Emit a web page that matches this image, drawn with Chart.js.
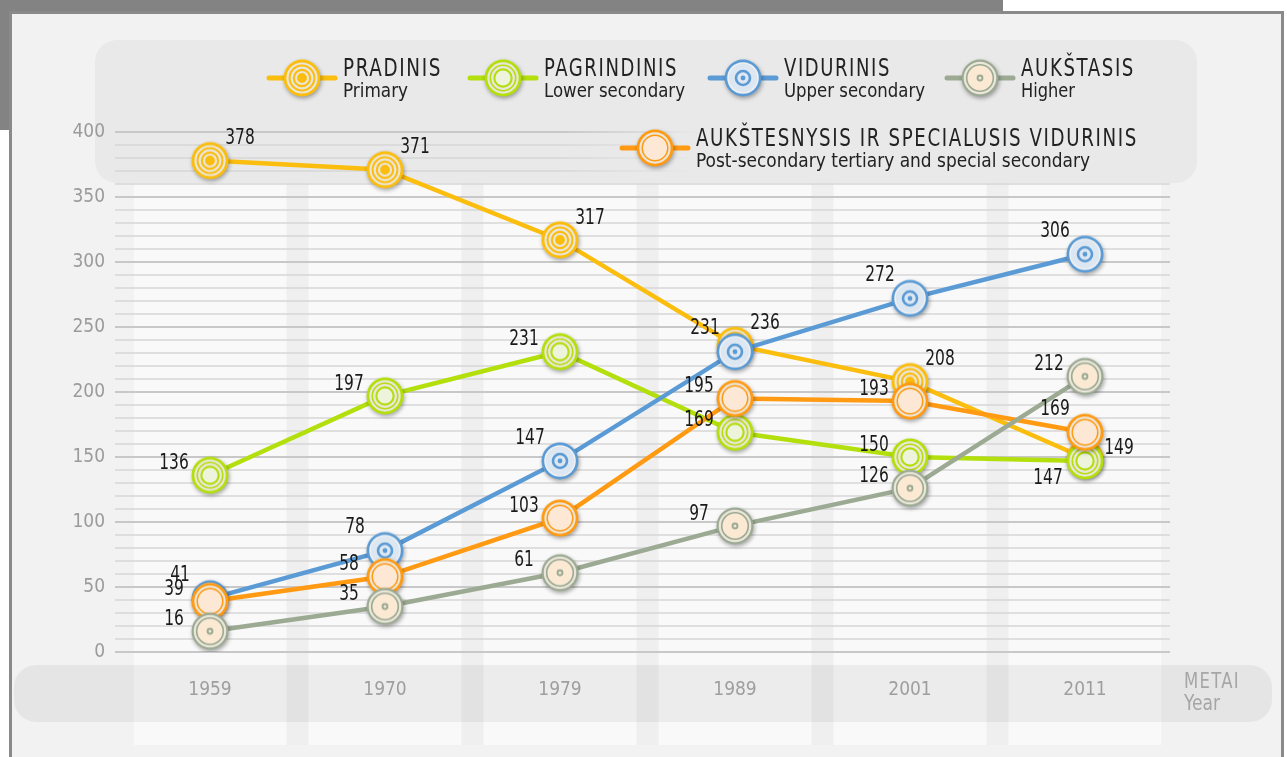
<!DOCTYPE html>
<html>
<head>
<meta charset="utf-8">
<script src="https://cdn.jsdelivr.net/npm/chart.js@4.4.1/dist/chart.umd.min.js"></script>
<style>
html, body { margin: 0; padding: 0; background: #fff; overflow: hidden; }
canvas { display: block; }
</style>
</head>
<body>
<canvas id="chart" width="1287" height="757"></canvas>
<script>
// Chart data (thousands of people by education level)
const years = ['1959', '1970', '1979', '1989', '2001', '2011'];
const primary = [378, 371, 317, 236, 208, 149];
const lowerSecondary = [136, 197, 231, 169, 150, 147];
const upperSecondary = [41, 78, 147, 231, 272, 306];
const higher = [16, 35, 61, 97, 126, 212];
const postSecondary = [39, 58, 103, 195, 193, 169];

const seriesTitles = ['PRADINIS', 'PAGRINDINIS', 'VIDURINIS', 'AUKŠTASIS', 'AUKŠTESNYSIS IR SPECIALUSIS VIDURINIS'];
const seriesSubtitles = ['Primary', 'Lower secondary', 'Upper secondary', 'Higher', 'Post-secondary tertiary and special secondary'];
const axisTitle = ['METAI', 'Year'];

// where each value label sits around its marker
const primaryPlace = ['ur', 'ur', 'ur', 'ur', 'ur', 'r'];
const lowerPlace = ['l', 'l', 'l', 'l', 'l', 'dl'];
const upperPlace = ['ul', 'ul', 'ul', 'ul', 'ul', 'ul'];
const higherPlace = ['l', 'l', 'l', 'l', 'l', 'l'];
const postPlace = ['l', 'l', 'l', 'l', 'l', 'ul'];

const FONT = '"DejaVu Sans Condensed", "Liberation Sans Narrow", "Roboto Condensed", "DejaVu Sans", sans-serif';
Chart.defaults.font.family = FONT;

const COLORS = {
    primary: '#fbbd0e',
    lower: '#b3df0c',
    upper: '#5b9bd5',
    higher: '#9caa93',
    post: '#ff9a12'
};

const placeOffsets = {
    ur: [30, -22],
    r: [34, -10],
    ul: [-30, -23],
    l: [-36, -12],
    dl: [-37, 17]
};

// Build the concentric ring marker images (drawn on a 50x50 canvas)
const MC = 25;
function disc(g, r, color) {
    g.beginPath();
    g.arc(MC, MC, r, 0, Math.PI * 2);
    g.fillStyle = color;
    g.fill();
}
function ring(g, r, color, w) {
    g.beginPath();
    g.arc(MC, MC, r, 0, Math.PI * 2);
    g.strokeStyle = color;
    g.lineWidth = w;
    g.stroke();
}
function makeMarker(kind, color) {
    const c = document.createElement('canvas');
    c.width = 50;
    c.height = 50;
    const g = c.getContext('2d');
    g.save();
    g.shadowColor = 'rgba(0,0,0,0.35)';
    g.shadowBlur = 4;
    g.shadowOffsetX = 1;
    g.shadowOffsetY = 2;
    disc(g, 18.5, color);
    g.restore();
    const light = '#ebe6da';
    if (kind === 'primary') {
        ring(g, 14.5, light, 2.2);
        ring(g, 10.3, light, 2.2);
        ring(g, 6, light, 2.2);
        disc(g, 3.2, color);
    } else if (kind === 'lower') {
        ring(g, 14.6, light, 2.2);
        ring(g, 10.8, light, 2.2);
        disc(g, 7.6, '#eef4dc');
    } else if (kind === 'upper') {
        disc(g, 15.8, '#eef0f2');
        disc(g, 14.2, '#dde7f1');
        ring(g, 7, color, 2.6);
        disc(g, 2.4, color);
    } else if (kind === 'higher') {
        ring(g, 15.2, light, 2.2);
        disc(g, 12.5, '#fbe9d3');
        disc(g, 3.4, color);
        disc(g, 1.5, '#f3e6d4');
    } else if (kind === 'post') {
        ring(g, 14.6, light, 2.2);
        disc(g, 12, '#fde8d5');
    }
    return c;
}

const markers = {
    primary: makeMarker('primary', COLORS.primary),
    lower: makeMarker('lower', COLORS.lower),
    upper: makeMarker('upper', COLORS.upper),
    higher: makeMarker('higher', COLORS.higher),
    post: makeMarker('post', COLORS.post)
};

function makeDataset(label, data, key, place, order) {
    return {
        label: label,
        data: data,
        borderColor: COLORS[key],
        backgroundColor: COLORS[key],
        borderWidth: 4.5,
        tension: 0,
        pointStyle: markers[key],
        pointRadius: 18,
        pointHoverRadius: 18,
        order: order,
        place: place
    };
}

function roundRect(ctx, x, y, w, h, r) {
    ctx.beginPath();
    ctx.moveTo(x + r, y);
    ctx.arcTo(x + w, y, x + w, y + h, r);
    ctx.arcTo(x + w, y + h, x, y + h, r);
    ctx.arcTo(x, y + h, x, y, r);
    ctx.arcTo(x, y, x + w, y, r);
    ctx.closePath();
}

// Background panel, column stripes, legend box and the year band
const backdropPlugin = {
    id: 'backdrop',
    beforeDraw(chart) {
        const ctx = chart.ctx;
        const xScale = chart.scales.x;
        ctx.save();
        ctx.fillStyle = '#ffffff';
        ctx.fillRect(0, 0, chart.width, chart.height);
        ctx.fillStyle = '#838383';
        ctx.fillRect(0, 0, 1003, 130);

        ctx.fillStyle = '#f2f2f2';
        ctx.fillRect(10, 12, 1273, 760);
        ctx.strokeStyle = '#8a8a8a';
        ctx.lineWidth = 3;
        ctx.strokeRect(10.5, 12.5, 1272, 760);

        // light column behind every year, slightly darker gaps between
        const step = xScale.getPixelForValue(1) - xScale.getPixelForValue(0);
        ctx.fillStyle = '#efefef';
        ctx.fillRect(xScale.left + 10, 150, xScale.right - xScale.left - 20, 595);
        years.forEach((y, i) => {
            const cx = xScale.getPixelForValue(i);
            ctx.fillStyle = '#f9f9f9';
            ctx.fillRect(cx - step / 2 + 11, 150, step - 22, 595);
        });

        // legend box
        ctx.fillStyle = '#e9e9e9';
        roundRect(ctx, 95, 40, 1102, 143, 22);
        ctx.fill();

        // year band
        ctx.fillStyle = 'rgba(0,0,0,0.05)';
        roundRect(ctx, 14, 665, 1258, 57, 22);
        ctx.fill();
        ctx.restore();
    }
};

// Major / minor gridlines, faded out under the right half of the legend
const gridPlugin = {
    id: 'grid',
    beforeDatasetsDraw(chart) {
        const ctx = chart.ctx;
        const yScale = chart.scales.y;
        ctx.save();
        for (let v = 0; v <= 400; v += 10) {
            const py = Math.round(yScale.getPixelForValue(v));
            const major = v % 50 === 0;
            ctx.strokeStyle = major ? '#c8c8c8' : '#d6d6d6';
            ctx.lineWidth = major ? 2 : 1.3;
            ctx.beginPath();
            ctx.moveTo(115, py);
            ctx.lineTo(1170, py);
            ctx.stroke();
        }
        const grad = ctx.createLinearGradient(560, 0, 700, 0);
        grad.addColorStop(0, 'rgba(233,233,233,0)');
        grad.addColorStop(1, 'rgba(233,233,233,1)');
        ctx.fillStyle = grad;
        ctx.beginPath();
        ctx.rect(560, 120, 637, 63);
        ctx.clip();
        roundRect(ctx, 95, 40, 1102, 143, 22);
        ctx.fill();
        ctx.restore();
    }
};

// Value labels next to each marker, squeezed horizontally like a condensed face
const valueLabelPlugin = {
    id: 'valueLabels',
    afterDatasetsDraw(chart) {
        const ctx = chart.ctx;
        ctx.save();
        ctx.font = '22px ' + FONT;
        ctx.fillStyle = '#1a1a1a';
        ctx.textAlign = 'center';
        ctx.textBaseline = 'middle';
        chart.data.datasets.forEach((ds, di) => {
            const meta = chart.getDatasetMeta(di);
            meta.data.forEach((pt, i) => {
                const off = placeOffsets[ds.place[i]];
                ctx.save();
                ctx.translate(pt.x + off[0], pt.y + off[1]);
                ctx.scale(0.78, 1);
                ctx.fillText(String(ds.data[i]), 0, 0);
                ctx.restore();
            });
        });
        ctx.restore();
    }
};

// Custom two-line legend and the axis title
const legendItems = [
    { key: 'primary', x: 302, y: 78, tw: 99, sw: 65 },
    { key: 'lower', x: 503, y: 78, tw: 134, sw: 141 },
    { key: 'upper', x: 743, y: 78, tw: 107, sw: 141 },
    { key: 'higher', x: 980, y: 78, tw: 114, sw: 54 },
    { key: 'post', x: 655, y: 148, tw: 442, sw: 394 }
];

const legendPlugin = {
    id: 'customLegend',
    afterDraw(chart) {
        const ctx = chart.ctx;
        ctx.save();
        legendItems.forEach((item, i) => {
            ctx.strokeStyle = COLORS[item.key];
            ctx.lineWidth = 5;
            ctx.lineCap = 'round';
            ctx.beginPath();
            ctx.moveTo(item.x - 33, item.y);
            ctx.lineTo(item.x + 33, item.y);
            ctx.stroke();
            ctx.drawImage(markers[item.key], item.x - MC, item.y - MC);

            const tx = item.x + 41;
            ctx.fillStyle = '#222222';
            ctx.textAlign = 'left';
            ctx.textBaseline = 'alphabetic';
            ctx.letterSpacing = '2px';
            ctx.font = '25px ' + FONT;
            ctx.fillText(seriesTitles[i], tx, item.y - 2, item.tw);
            ctx.letterSpacing = '0px';
            ctx.font = '20px ' + FONT;
            ctx.fillText(seriesSubtitles[i], tx, item.y + 19, item.sw);
        });

        ctx.fillStyle = '#a6a6a6';
        ctx.letterSpacing = '1.5px';
        ctx.font = '21px ' + FONT;
        ctx.fillText(axisTitle[0], 1184, 688, 56);
        ctx.letterSpacing = '0px';
        ctx.fillText(axisTitle[1], 1184, 710, 36);
        ctx.restore();
    }
};

const ctx = document.getElementById('chart').getContext('2d');
const chart = new Chart(ctx, {
    type: 'line',
    data: {
        labels: years,
        datasets: [
            makeDataset(seriesTitles[0], primary, 'primary', primaryPlace, 5),
            makeDataset(seriesTitles[1], lowerSecondary, 'lower', lowerPlace, 4),
            makeDataset(seriesTitles[2], upperSecondary, 'upper', upperPlace, 3),
            makeDataset(seriesTitles[3], higher, 'higher', higherPlace, 1),
            makeDataset(seriesTitles[4], postSecondary, 'post', postPlace, 2)
        ]
    },
    options: {
        responsive: false,
        animation: false,
        devicePixelRatio: 1,
        layout: {
            padding: { top: 132, left: 0, right: 114.5, bottom: 0 }
        },
        plugins: {
            legend: { display: false },
            tooltip: { enabled: false }
        },
        scales: {
            x: {
                offset: true,
                grid: { display: false, drawTicks: false },
                border: { display: false },
                ticks: {
                    color: '#9e9e9e',
                    padding: 27,
                    font: { size: 19 }
                },
                afterFit(scale) { scale.height = 105; }
            },
            y: {
                min: 0,
                max: 400,
                grid: { display: false, drawTicks: false },
                border: { display: false },
                ticks: {
                    stepSize: 50,
                    color: '#9b9b9b',
                    padding: 17.5,
                    font: { size: 19 }
                },
                afterFit(scale) { scale.width = 122.5; }
            }
        }
    },
    plugins: [backdropPlugin, gridPlugin, valueLabelPlugin, legendPlugin]
});
</script>
</body>
</html>
